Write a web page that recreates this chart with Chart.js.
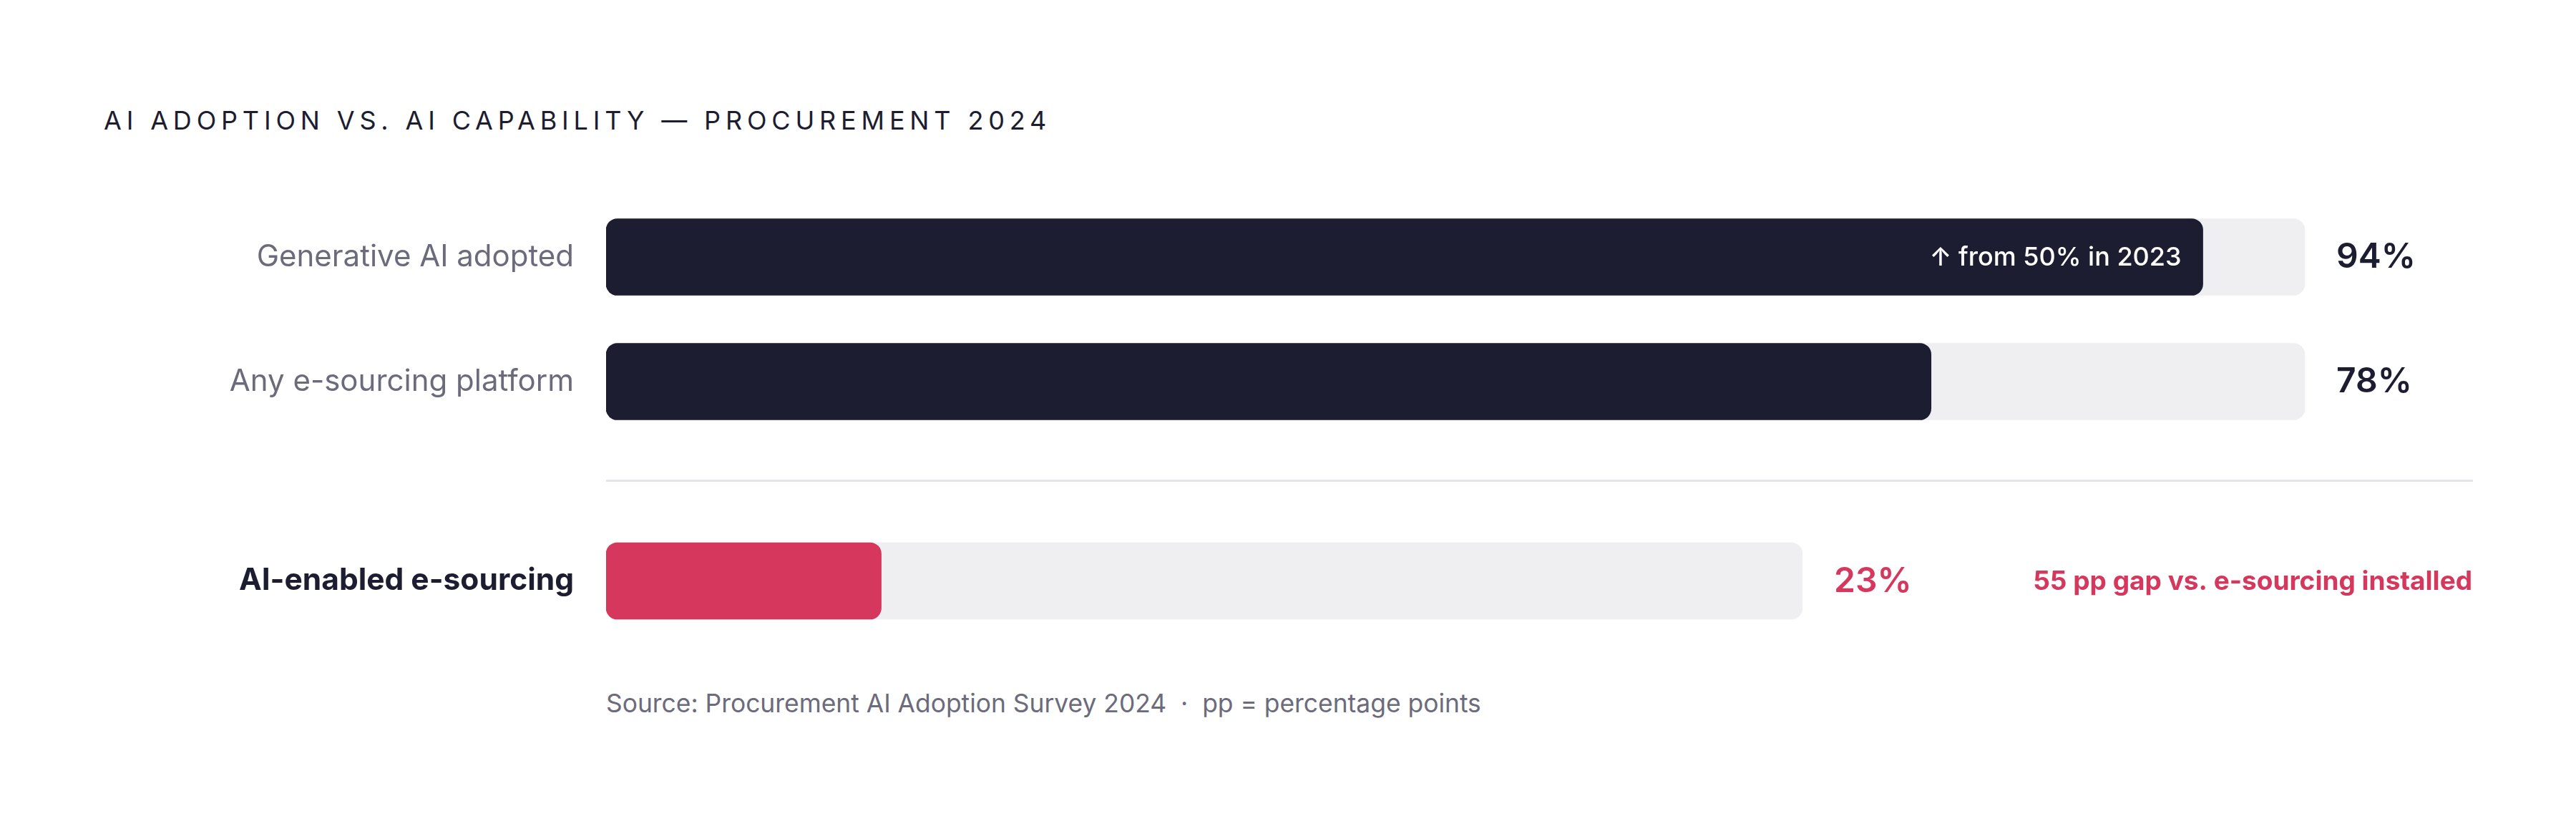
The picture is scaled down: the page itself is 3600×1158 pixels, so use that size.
<!DOCTYPE html>
<html>
<head>
<meta charset="utf-8">
<script src="https://cdn.jsdelivr.net/npm/chart.js@4.4.1/dist/chart.umd.min.js"></script>
<style>
  html, body { margin: 0; padding: 0; background: #ffffff; }
  body { width: 3600px; height: 1158px; position: relative; overflow: hidden; font-family: Inter, "Noto Sans", sans-serif; }
  #title { position: absolute; left: 145px; top: 146px; font-size: 36px; font-weight: 400; letter-spacing: 0.19em; color: #1c1d30; white-space: pre; line-height: 44px; }
  #divider { position: absolute; left: 847px; width: 2609px; top: 670px; height: 3px; background: #e3e3e8; }
  #source { position: absolute; left: 847px; top: 961px; font-size: 35.4px; color: #6b6b7b; white-space: pre; line-height: 44px; }
  .wrap { position: absolute; left: 0; width: 3600px; }
</style>
</head>
<body>
<div id="title"></div>
<div class="wrap" style="top:272px;height:348px;"><canvas id="top" width="3600" height="348"></canvas></div>
<div id="divider"></div>
<div class="wrap" style="top:700px;height:223px;"><canvas id="gap" width="3600" height="223"></canvas></div>
<div id="source"></div>
<script>
// ---- data ----
const titleText = 'AI ADOPTION VS. AI CAPABILITY — PROCUREMENT 2024';
const categoriesTop = ['Generative AI adopted', 'Any e-sourcing platform'];
const valuesTop = [94, 78];
const prior2023 = [50, null];
const categoriesGap = ['AI-enabled e-sourcing'];
const valuesGap = [23];
const scaleMax = 100;
const sourceText = 'Source: Procurement AI Adoption Survey 2024  ·  pp = percentage points';

// ---- styles ----
const NAVY = '#1c1d30';
const TRACK = '#efeff1';
const RED = '#d6375c';
const GRAY = '#6b6b7b';
const FONT = 'Inter, "Noto Sans", sans-serif';

document.getElementById('title').textContent = titleText;
document.getElementById('source').textContent = sourceText;

const gapPP = valuesTop[1] - valuesGap[0];

const valueLabels = {
  id: 'valueLabels',
  afterDatasetsDraw(chart, args, opts) {
    const ctx = chart.ctx;
    const meta = chart.getDatasetMeta(0);
    const xs = chart.scales.x;
    const vals = chart.data.datasets[0].data;
    ctx.save();
    ctx.textBaseline = 'middle';
    meta.data.forEach((el, i) => {
      ctx.font = '600 48px ' + FONT;
      ctx.fillStyle = opts.color;
      ctx.textAlign = 'left';
      ctx.fillText(vals[i] + '%', xs.getPixelForValue(scaleMax) + 44, el.y + 1);
      if (opts.prior && opts.prior[i] != null) {
        ctx.font = '500 36px ' + FONT;
        ctx.fillStyle = '#ffffff';
        ctx.textAlign = 'right';
        ctx.fillText('↑ from ' + opts.prior[i] + '% in 2023', el.x - 30, el.y + 1);
      }
      if (opts.gapNote) {
        ctx.font = '700 37px ' + FONT;
        ctx.fillStyle = RED;
        ctx.textAlign = 'right';
        ctx.fillText(opts.gapNote, chart.width - 145, el.y + 1);
      }
    });
    ctx.restore();
  }
};

function makeChart(id, labels, values, color, padRight, labelFont, labelColor, pluginOpts) {
  return new Chart(document.getElementById(id), {
    type: 'bar',
    data: {
      labels: labels,
      datasets: [
        { data: values, backgroundColor: color, borderRadius: 16, borderSkipped: false, barThickness: 107, grouped: false },
        { data: labels.map(() => scaleMax), backgroundColor: TRACK, borderRadius: 16, borderSkipped: false, barThickness: 107, grouped: false }
      ]
    },
    options: {
      indexAxis: 'y',
      responsive: false,
      devicePixelRatio: 1,
      animation: false,
      layout: { padding: { left: 0, right: padRight, top: 0, bottom: 0 } },
      plugins: { legend: { display: false }, tooltip: { enabled: false }, valueLabels: pluginOpts },
      scales: {
        x: { display: false, min: 0, max: scaleMax },
        y: {
          grid: { display: false, drawTicks: false },
          border: { display: false },
          ticks: { padding: 45, font: labelFont, color: labelColor },
          afterFit(scale) { scale.width = 847; scale.paddingTop = 0; scale.paddingBottom = 0; }
        }
      }
    },
    plugins: [valueLabels]
  });
}

makeChart('top', categoriesTop, valuesTop, NAVY, 3600 - 3221,
  { family: FONT, size: 42, weight: '400' }, GRAY,
  { color: NAVY, prior: prior2023 });

makeChart('gap', categoriesGap, valuesGap, RED, 3600 - 2519,
  { family: FONT, size: 42.5, weight: '700' }, NAVY,
  { color: RED, gapNote: gapPP + ' pp gap vs. e-sourcing installed' });
</script>
</body>
</html>
